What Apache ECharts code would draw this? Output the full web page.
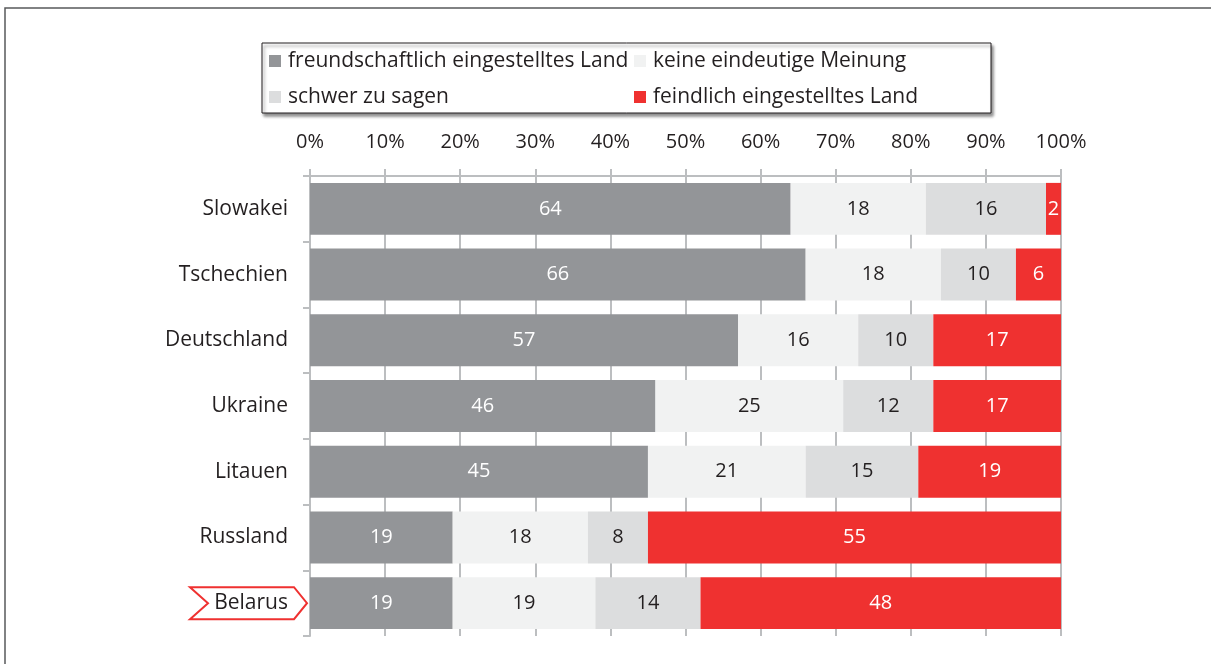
<!DOCTYPE html>
<html>
<head>
<meta charset="utf-8">
<script src="https://cdn.jsdelivr.net/npm/echarts@6/dist/echarts.min.js"></script>
<style>
  html, body { margin: 0; padding: 0; background: #fff; }
  #chart { width: 1211px; height: 664px; }
</style>
</head>
<body>
<div id="chart"></div>
<script>
// Länder (von oben nach unten)
var countries = ['Slowakei', 'Tschechien', 'Deutschland', 'Ukraine', 'Litauen', 'Russland', 'Belarus'];

// Antworten in %
var friendly  = [64, 66, 57, 46, 45, 19, 19];
var undecided = [18, 18, 16, 25, 21, 18, 19];
var hardToSay = [16, 10, 10, 12, 15, 8, 14];
var hostile   = [2, 6, 17, 17, 19, 55, 48];

var seriesNames = [
    'freundschaftlich eingestelltes Land',
    'keine eindeutige Meinung',
    'schwer zu sagen',
    'feindlich eingestelltes Land'
];

var FONT = 'Open Sans';
var TXT = '#231f20';
var LINE = '#bcbec0';

var myChart = echarts.init(document.getElementById('chart'));

function barSeries(name, data, color, labelColor) {
    return {
        name: name,
        type: 'bar',
        stack: 'all',
        data: data,
        barCategoryGap: '21%',
        itemStyle: { color: color },
        label: {
            show: true,
            position: 'inside',
            color: labelColor,
            fontFamily: FONT,
            fontSize: 20
        }
    };
}

var legendText = { color: TXT, fontSize: 21, lineHeight: 22, padding: [0, 0, 0, 2] };

var option = {
    animation: false,
    textStyle: { fontFamily: FONT },
    grid: { left: 310, right: 150, top: 176, bottom: 28 },
    legend: [{
        data: [seriesNames[0], seriesNames[2]],
        orient: 'vertical',
        left: 269, top: 50,
        padding: 0,
        itemWidth: 12, itemHeight: 12, itemGap: 14,
        icon: 'rect',
        z: 10,
        textStyle: legendText
    }, {
        data: [seriesNames[1], seriesNames[3]],
        orient: 'vertical',
        left: 634, top: 50,
        padding: 0,
        itemWidth: 12, itemHeight: 12, itemGap: 14,
        icon: 'rect',
        z: 10,
        textStyle: legendText
    }],
    xAxis: {
        type: 'value',
        position: 'top',
        min: 0, max: 100, interval: 10,
        axisLabel: { formatter: '{value}%', color: TXT, fontSize: 20, margin: 24 },
        axisLine: { show: true, lineStyle: { color: LINE, width: 2 } },
        axisTick: { show: true, length: 7, lineStyle: { color: LINE, width: 2 } },
        splitLine: { show: true, lineStyle: { color: LINE, width: 2 } }
    },
    yAxis: {
        type: 'category',
        inverse: true,
        data: countries,
        axisLabel: { color: TXT, fontSize: 21, margin: 22 },
        axisLine: { show: true, lineStyle: { color: LINE, width: 2 } },
        axisTick: { show: true, length: 7, lineStyle: { color: LINE, width: 2 } }
    },
    series: [
        barSeries(seriesNames[0], friendly, '#939598', '#ffffff'),
        barSeries(seriesNames[1], undecided, '#f1f2f2', TXT),
        barSeries(seriesNames[2], hardToSay, '#dcddde', TXT),
        barSeries(seriesNames[3], hostile, '#ef3130', '#ffffff')
    ]
};

myChart.setOption(option);

// Rahmen, Legendenkasten und Pfeil um "Belarus"
var by = myChart.convertToPixel({ yAxisIndex: 0 }, 'Belarus');
var x0 = myChart.convertToPixel({ xAxisIndex: 0 }, 0);
myChart.setOption({
    graphic: [{
        type: 'rect',
        z: -2,
        shape: { x: 5, y: 8, width: 1300, height: 800 },
        style: { fill: 'none', stroke: '#58595b', lineWidth: 1.5 }
    }, {
        type: 'rect',
        z: 1,
        shape: { x: 262, y: 43, width: 729, height: 70 },
        style: {
            fill: '#fff', stroke: '#231f20', lineWidth: 1,
            shadowBlur: 3, shadowOffsetX: 2, shadowOffsetY: 3,
            shadowColor: 'rgba(0,0,0,0.45)'
        }
    }, {
        type: 'polygon',
        z: -1,
        shape: {
            points: [
                [x0 - 120, by - 16], [x0 - 16, by - 16], [x0 - 3, by],
                [x0 - 16, by + 16], [x0 - 120, by + 16], [x0 - 102, by]
            ]
        },
        style: { fill: '#fff', stroke: '#ef3130', lineWidth: 2 }
    }]
});
</script>
</body>
</html>
